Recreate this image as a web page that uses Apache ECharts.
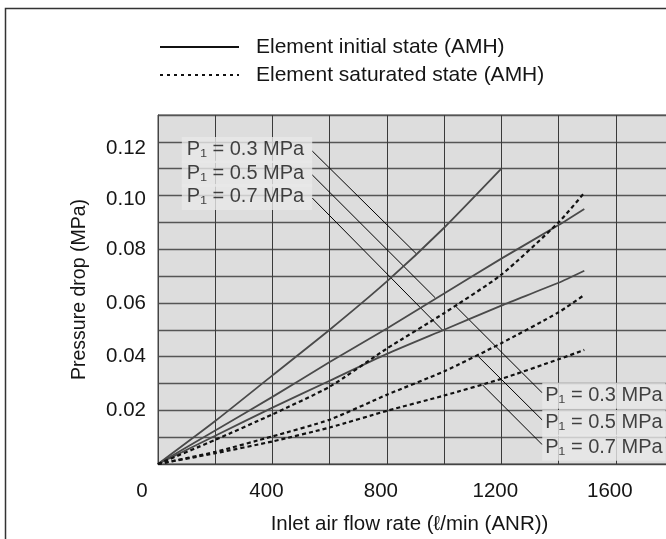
<!DOCTYPE html>
<html><head><meta charset="utf-8">
<script src="https://cdn.jsdelivr.net/npm/echarts@6/dist/echarts.min.js"></script>
<style>html,body{margin:0;padding:0;background:#fff}#c{width:666px;height:539px}</style>
</head><body><div id="c"></div>
<script>
// ---- data ----
const flowShort = [0, 200, 400, 600, 800, 1000, 1200];
const flowLong  = [0, 200, 400, 600, 800, 1000, 1200, 1400, 1490];
const initP03 = [0, 0.016, 0.033, 0.050, 0.068, 0.088, 0.110];                   // flowShort
const initP05 = [0, 0.0125, 0.025, 0.038, 0.0505, 0.0635, 0.0765, 0.089, 0.095]; // flowLong
const initP07 = [0, 0.0105, 0.021, 0.031, 0.041, 0.050, 0.059, 0.0675, 0.072];   // flowLong
const satP03  = [0, 0.009, 0.0185, 0.0288, 0.043, 0.0562, 0.0705, 0.090, 0.101];
const satP05  = [0, 0.0045, 0.0103, 0.0165, 0.0258, 0.0345, 0.045, 0.0565, 0.063];
const satP07  = [0, 0.004, 0.0084, 0.0136, 0.0198, 0.0255, 0.0317, 0.039, 0.0425];
const xTickLabels = [0, 400, 800, 1200, 1600];
const yTickLabels = [0.02, 0.04, 0.06, 0.08, 0.10, 0.12];
const legendNames = ['Element initial state (AMH)', 'Element saturated state (AMH)'];
const annotationTexts = ['P\u2081 = 0.3 MPa', 'P\u2081 = 0.5 MPa', 'P\u2081 = 0.7 MPa',
                         'P\u2081 = 0.3 MPa', 'P\u2081 = 0.5 MPa', 'P\u2081 = 0.7 MPa'];
// leader lines: start (at label) and end (on curve), data coordinates
const leaderStartX = [539, 539, 539, 1343, 1343, 1343];
const leaderStartY = [0.1166, 0.1077, 0.0991, 0.0265, 0.0164, 0.0072];
const leaderEndX   = [903, 969, 997, 1039, 1120, 1134];
const leaderEndY   = [0.0783, 0.0619, 0.0496, 0.0589, 0.0400, 0.0295];
const annotationSide = ['left', 'left', 'left', 'right', 'right', 'right'];

// ---- chart ----
const FONT = '"Liberation Sans", Arial, Helvetica, sans-serif';
const TXT = '#151515';
const pairs = (xs, ys) => ys.map((y, i) => [xs[i], y]);
const solidStyle = { color: '#4a4a4a', width: 1.8, type: 'solid' };
const dashStyle = { color: '#111', width: 2.2, type: [4, 3] };

const series = [];
[[flowShort, initP03], [flowLong, initP05], [flowLong, initP07]].forEach(([xs, ys]) => {
  series.push({ type: 'line', name: legendNames[0], data: pairs(xs, ys), symbol: 'none',
    smooth: 0.2, lineStyle: solidStyle, itemStyle: { color: '#4a4a4a' }, silent: true, z: 3 });
});
[satP03, satP05, satP07].forEach(ys => {
  series.push({ type: 'line', name: legendNames[1], data: pairs(flowLong, ys), symbol: 'none',
    smooth: 0.2, lineStyle: dashStyle, itemStyle: { color: '#111' }, silent: true, z: 4 });
});
leaderStartX.forEach((x, i) => {
  series.push({ type: 'line', data: [[x, leaderStartY[i]], [leaderEndX[i], leaderEndY[i]]],
    symbol: 'none', lineStyle: { color: '#000', width: 1 }, silent: true, z: 2 });
});
series.push({
  type: 'scatter', symbolSize: 0, silent: true, z: 6,
  data: leaderStartX.map((x, i) => {
    const left = annotationSide[i] === 'left';
    return {
      value: [x, leaderStartY[i]], name: annotationTexts[i],
      label: { position: annotationSide[i], distance: 0,
               offset: left ? [0, -1] : [0, 3],
               padding: left ? [2, 8, 1, 5] : [2, 3, 1, 3] }
    };
  }),
  label: { show: true, formatter: p => p.name, fontSize: 20, fontFamily: FONT, color: TXT,
    backgroundColor: '#e8e8e8', lineHeight: 23 }
});

const legendText = { fontSize: 21, fill: TXT, fontFamily: FONT, verticalAlign: 'middle' };
const chart = echarts.init(document.getElementById('c'));
chart.setOption({
  animation: false,
  backgroundColor: '#fff',
  textStyle: { fontFamily: FONT },
  grid: { left: 158, top: 115, width: 515, height: 349, outerBoundsMode: 'none',
          containLabel: false, show: true,
          backgroundColor: '#dddddd', borderColor: '#444', borderWidth: 1 },
  xAxis: {
    type: 'value', min: 0, max: 1800, interval: 200,
    axisLine: { show: true, lineStyle: { color: '#444' } }, axisTick: { show: false },
    splitLine: { show: true, lineStyle: { color: '#3a3a3a', width: 1 } },
    axisLabel: {
      margin: 17, fontSize: 20.5, color: TXT, fontFamily: FONT,
      formatter: v => xTickLabels.indexOf(v) < 0 ? '' : (v === 0 ? '{z|0}' : '{n|' + v + '}'),
      rich: { z: { padding: [0, 32, 0, 0], fontSize: 20.5, color: TXT, fontFamily: FONT },
              n: { padding: [0, 12, 0, 0], fontSize: 20.5, color: TXT, fontFamily: FONT } }
    },
    name: 'Inlet air flow rate (\u2113/min (ANR))', nameLocation: 'middle', nameGap: 50,
    nameTextStyle: { fontSize: 20.5, color: TXT, fontFamily: FONT, padding: [0, 12, 0, 0] }
  },
  yAxis: {
    type: 'value', min: 0, max: 0.13, interval: 0.01,
    axisLine: { show: true, lineStyle: { color: '#444' } }, axisTick: { show: false },
    splitLine: { show: true, lineStyle: { color: '#555', width: 1.3 } },
    axisLabel: {
      margin: 12, fontSize: 20.5, color: TXT, fontFamily: FONT,
      formatter: v => {
        const k = Math.round(v * 100);
        const hit = yTickLabels.some(t => Math.round(t * 100) === k);
        if (!hit) return '';
        const s = (k / 100).toFixed(2);
        return k === 12 ? '{a|' + s + '}' : (k === 10 ? '{b|' + s + '}' : s);
      },
      rich: { a: { padding: [12, 0, 0, 0], fontSize: 20.5, color: TXT, fontFamily: FONT },
              b: { padding: [7, 0, 0, 0], fontSize: 20.5, color: TXT, fontFamily: FONT } }
    },
    name: 'Pressure drop (MPa)', nameLocation: 'middle', nameGap: 68, nameRotate: 90,
    nameTextStyle: { fontSize: 19.5, color: TXT, fontFamily: FONT }
  },
  graphic: [
    { type: 'rect', shape: { x: 5.5, y: 8.5, width: 700, height: 600 },
      style: { fill: 'none', stroke: '#333', lineWidth: 1.5 }, silent: true },
    { type: 'line', shape: { x1: 160, y1: 47, x2: 239, y2: 47 },
      style: { stroke: '#111', lineWidth: 2 }, silent: true },
    { type: 'text', left: 256, top: 37, style: Object.assign({ text: legendNames[0] }, legendText) },
    { type: 'line', shape: { x1: 160, y1: 75, x2: 239, y2: 75 },
      style: { stroke: '#111', lineWidth: 2, lineDash: [3, 4] }, silent: true },
    { type: 'text', left: 256, top: 65, style: Object.assign({ text: legendNames[1] }, legendText) }
  ],
  series
});
</script></body></html>
